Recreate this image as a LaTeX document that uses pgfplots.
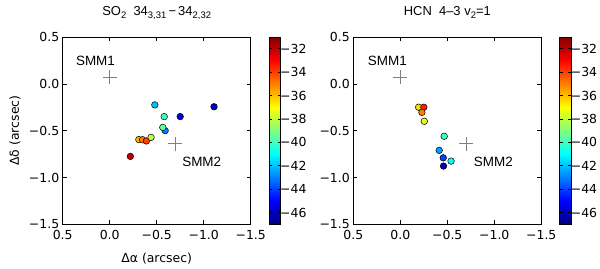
\documentclass[border=0pt]{standalone}
\usepackage{pgfplots}
\pgfplotsset{compat=1.18}
\usepackage{fontspec}
\setmainfont{DejaVu Sans}
\newfontfamily\helv{Liberation Sans}
\newcommand{\sub}[1]{\raisebox{-0.25em}{\fontsize{9.5}{10}\selectfont #1}}
\tikzset{smm/.style={font=\helv\fontsize{13.5}{15}\selectfont}}

\pgfplotstableread{
x y c
-0.48 -0.225 -42
-1.11 -0.245 -46
-0.58 -0.35 -40
-0.75 -0.35 -45.5
-0.59 -0.50 -43
-0.565 -0.465 -39.5
-0.31 -0.595 -35.8
-0.35 -0.597 -35
-0.39 -0.61 -34
-0.44 -0.572 -38
-0.22 -0.775 -32
}\leftdata

\pgfplotstableread{
x y c
-0.195 -0.25 -36.5
-0.25 -0.25 -33.5
-0.23 -0.305 -35
-0.255 -0.40 -37.5
-0.467 -0.56 -40
-0.414 -0.71 -42.5
-0.457 -0.79 -44
-0.54 -0.825 -41
-0.46 -0.878 -46
}\rightdata

\begin{document}
\begin{tikzpicture}
\useasboundingbox (0bp,0bp) rectangle (600bp,269bp);
\pgfplotsset{
  panel/.style={
    scale only axis, width=188bp, height=187.3bp,
    anchor=south west,
    x dir=reverse, xmin=-1.5, xmax=0.5, ymin=-1.5, ymax=0.5,
    xtick={0.5,0,-0.5,-1,-1.5}, xticklabels={0.5,0.0,−0.5,−1.0,−1.5},
    ytick={-1.5,-1,-0.5,0,0.5}, yticklabels={−1.5,−1.0,−0.5,0.0,0.5},
    tick align=inside, major tick length=4bp,
    tick style={black, line width=0.6bp},
    axis line style={line width=0.8bp},
    tick label style={font=\fontsize{12.5}{14}\selectfont},
    xticklabel style={yshift=-2.5bp},
    title style={at={(axis description cs:0.5,1.0854)}, anchor=base, font=\helv\fontsize{13}{15}\selectfont},
    xlabel style={at={(axis description cs:0.5,-0.203)}, anchor=base, font=\fontsize{12.5}{14}\selectfont},
    ylabel style={at={(axis description cs:-0.2537,0.5)}, anchor=center, font=\fontsize{12.5}{14}\selectfont},
    colormap/jet, point meta min=-47, point meta max=-31,
    colorbar,
    colorbar style={
      at={(parent axis.north east)}, anchor=north west, xshift=10bp,
      width=11.5bp,
      ytick={-46,-44,-42,-40,-38,-36,-34,-32},
      yticklabels={−46,−44,−42,−40,−38,−36,−34,−32},
      tick align=inside, major tick length=3bp,
      tick style={black, line width=0.6bp},
      axis line style={line width=0.8bp},
      tick label style={font=\fontsize{12.5}{14}\selectfont},
      yticklabel style={xshift=-4bp},
    },
  },
  pts/.style={scatter, only marks, mark=*, mark size=3.3bp,
    scatter src=explicit,
    scatter/use mapped color={draw=black, fill=mapped color},
    mark options={line width=0.5bp}},
  crs/.style={only marks, mark=+, mark size=7bp, color=gray,
    mark options={line width=0.6bp}},
}
\begin{axis}[panel, at={(62.7bp,44.7bp)},
  title={SO\sub{2}\ \ 34\sub{3,31}\,−\,34\sub{2,32}},
  xlabel={Δα (arcsec)}, ylabel={Δδ (arcsec)}]
\addplot[crs] coordinates {(0,0.07) (-0.70,-0.64)};
\addplot[pts] table[meta=c] {\leftdata};
\node[smm] at (axis cs:0.151,0.244) {SMM1};
\node[smm] at (axis cs:-0.979,-0.835) {SMM2};
\end{axis}
\begin{axis}[panel, at={(353.3bp,44.7bp)},
  title={HCN\ \ 4–3 v\sub{2}=1}]
\addplot[crs] coordinates {(0,0.07) (-0.70,-0.64)};
\addplot[pts] table[meta=c] {\rightdata};
\node[smm] at (axis cs:0.138,0.25) {SMM1};
\node[smm] at (axis cs:-0.99,-0.83) {SMM2};
\end{axis}
\end{tikzpicture}
\end{document}
